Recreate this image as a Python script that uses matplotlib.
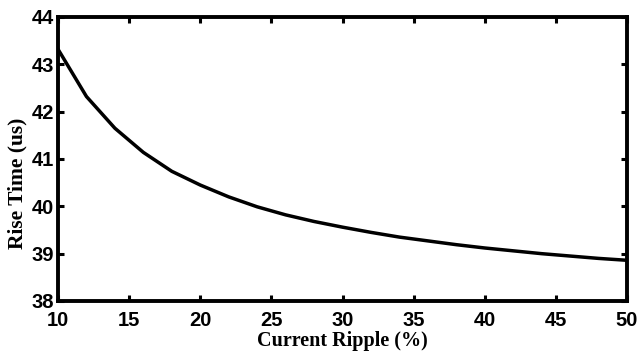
import matplotlib
matplotlib.use('Agg')
import matplotlib.pyplot as plt
import numpy as np

# current ripple (%) vs rise time (us)
ripple = [10, 12, 14, 16, 18, 20, 22, 24, 26, 28, 30, 32, 34, 36, 38, 40, 42, 44, 46, 48, 50]
rise_time = [43.32, 42.32, 41.65, 41.14, 40.74, 40.45, 40.20, 39.99, 39.82, 39.68, 39.56,
             39.45, 39.35, 39.27, 39.19, 39.12, 39.06, 39.00, 38.95, 38.90, 38.86]

fig = plt.figure(figsize=(6.41, 3.54), dpi=100)
ax = fig.add_axes([58/641, 1 - 301/354, (627-58)/641, (301-17)/354])

ax.plot(ripple, rise_time, color='black', linewidth=2.5)

ax.set_xlim(10, 50)
ax.set_ylim(38, 44)
ax.set_xticks(np.arange(10, 51, 5))
ax.set_yticks(np.arange(38, 45, 1))

for s in ax.spines.values():
    s.set_linewidth(2.8)
ax.tick_params(direction='in', length=4, width=2.2, top=True, right=True)
ax.tick_params(axis='x', pad=7)
ax.tick_params(axis='y', pad=3)
for lab in ax.get_xticklabels() + ax.get_yticklabels():
    lab.set_fontfamily('Liberation Sans')
    lab.set_fontweight('bold')
    lab.set_fontsize(14.5)

ax.set_xlabel('Current Ripple (%)', family='Liberation Serif', fontweight='bold', fontsize=14.5, labelpad=1)
ax.set_ylabel('Rise Time (us)', family='Liberation Serif', fontweight='bold', fontsize=15.5)
ax.yaxis.set_label_coords(-0.054, 0.415)

fig.savefig('out.png', dpi=100)
